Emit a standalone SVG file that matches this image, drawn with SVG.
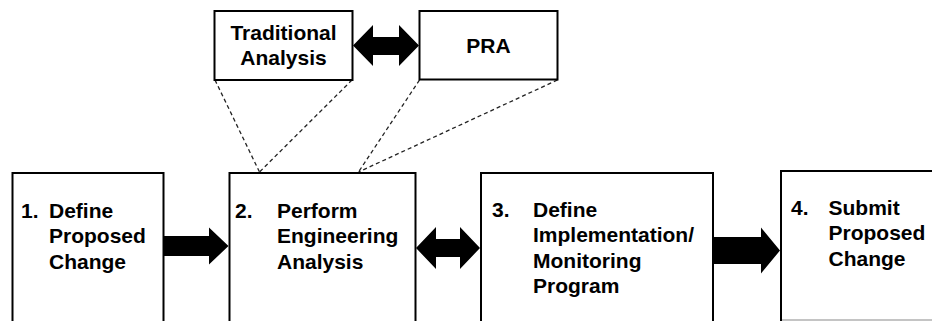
<svg xmlns="http://www.w3.org/2000/svg" width="932" height="321" viewBox="0 0 932 321">
  <style>
    .box { fill: #ffffff; stroke: #000000; stroke-width: 2; }
    .lbl { font-family: "Liberation Sans", Arial, sans-serif; font-weight: bold; font-size: 21px; fill: #000000; }
    .mid { text-anchor: middle; }
    .dash { fill: none; stroke: #222222; stroke-width: 1.3; stroke-dasharray: 4 3; }
    .arrow { fill: #000000; stroke: none; }
  </style>
  <rect width="932" height="321" fill="#ffffff"/>

  <!-- connectors: dashed links from the analysis options, block arrows between steps -->
  <g id="connectors">
    <line class="dash" x1="215" y1="80" x2="259.5" y2="172"/>
    <line class="dash" x1="352" y1="80" x2="259.5" y2="172"/>
    <line class="dash" x1="419.5" y1="80" x2="358.5" y2="172"/>
    <line class="dash" x1="557.5" y1="80" x2="358.5" y2="172"/>
    <polygon class="arrow" points="353,45.5 373,25 373,37 399,37 399,25 419,45.5 399,66 399,55 373,55 373,66"/>
    <polygon class="arrow" points="163,236 209,236 209,227.5 228.5,246 209,264.5 209,256 163,256"/>
    <polygon class="arrow" points="416,248 436,227 436,239 460,239 460,227 480,248 460,269 460,257 436,257 436,269"/>
    <polygon class="arrow" points="713,237 761,237 761,227.5 780,250.5 761,273.5 761,264 713,264"/>
  </g>

  <g id="traditional-analysis">
    <rect class="box" x="214.5" y="11" width="138" height="69"/>
    <text class="lbl mid" x="283.5" y="39.5">Traditional</text>
    <text class="lbl mid" x="283.5" y="65">Analysis</text>
  </g>

  <g id="pra">
    <rect class="box" x="419.5" y="11" width="138" height="68.5"/>
    <text class="lbl mid" x="488.5" y="53">PRA</text>
  </g>

  <g id="step1">
    <rect class="box" x="12.5" y="173" width="151" height="160"/>
    <text class="lbl" x="21" y="217.5">1.</text>
    <text class="lbl" x="49" y="217.5">Define</text>
    <text class="lbl" x="49" y="243">Proposed</text>
    <text class="lbl" x="49" y="268.5">Change</text>
  </g>

  <g id="step2">
    <rect class="box" x="229.5" y="173" width="186" height="160"/>
    <text class="lbl" x="235" y="217.5">2.</text>
    <text class="lbl" x="277" y="217.5">Perform</text>
    <text class="lbl" x="277" y="243">Engineering</text>
    <text class="lbl" x="277" y="268.5">Analysis</text>
  </g>

  <g id="step3">
    <rect class="box" x="481" y="173" width="232" height="160"/>
    <text class="lbl" x="492" y="216.5">3.</text>
    <text class="lbl" x="533" y="216.5">Define</text>
    <text class="lbl" x="533" y="242">Implementation/</text>
    <text class="lbl" x="533" y="267.5">Monitoring</text>
    <text class="lbl" x="533" y="293">Program</text>
  </g>

  <g id="step4">
    <rect class="box" x="781" y="171" width="170" height="160"/>
    <line x1="782" y1="320" x2="932" y2="320" stroke="#b0b0b0" stroke-width="1.5"/>
    <text class="lbl" x="791" y="214.5">4.</text>
    <text class="lbl" x="828.5" y="214.5">Submit</text>
    <text class="lbl" x="828.5" y="240">Proposed</text>
    <text class="lbl" x="828.5" y="265.5">Change</text>
  </g>
</svg>
